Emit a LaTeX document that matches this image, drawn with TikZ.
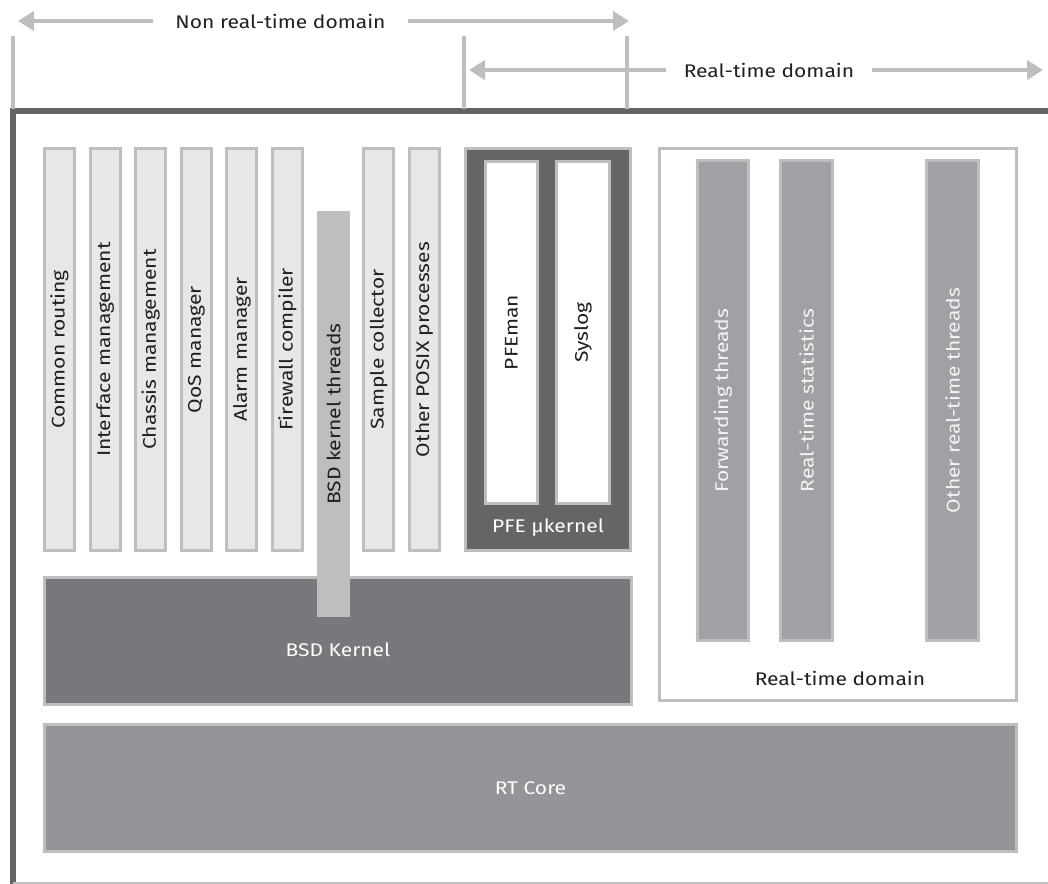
\documentclass[tikz,border=0pt]{standalone}
\usepackage{fontspec}
\setmainfont{Fira Sans}[FakeStretch=1.15]
\usetikzlibrary{arrows.meta}
\definecolor{framec}{HTML}{646466}
\definecolor{edge}{HTML}{BCBEC0}
\definecolor{lightc}{HTML}{E6E7E8}
\definecolor{pfec}{HTML}{646567}
\definecolor{bsdc}{HTML}{77787B}
\definecolor{rtcorec}{HTML}{949598}
\definecolor{rtcolc}{HTML}{A0A1A4}
\definecolor{ink}{HTML}{231F20}
\definecolor{paper}{HTML}{F4F4F5}
\tikzset{
  box/.style={draw=edge, line width=3bp, inner sep=0pt, outer sep=0pt},
  lcol/.style={box, fill=lightc, text=ink, minimum width=30bp, minimum height=402bp},
  rtcol/.style={box, fill=rtcolc, text=paper, minimum height=480bp},
  lab/.style={inner sep=0pt},
  toplabel/.style={inner sep=0pt, text=ink, minimum height=14bp},
  arr/.style={draw=edge, line width=4bp, -{Triangle[length=16bp,width=19bp]}},
  tick/.style={draw=edge, line width=3.5bp}
}
\begin{document}
\begin{tikzpicture}[x=1bp,y=-1bp, font=\fontsize{18.3bp}{22bp}\selectfont]
\useasboundingbox (0,0) rectangle (1048,884);
% frame
\draw[framec, line width=5.5bp] (10,111) -- (1048,111);
\draw[framec, line width=5.5bp] (13,108.5) -- (13,884);
\draw[edge!80!black!60, line width=2bp] (13,883) -- (1048,883);
% ticks
\draw[tick] (13,36) -- (13,108.5);
\draw[tick] (464,36) -- (464,108.5);
\draw[tick] (627,36) -- (627,108.5);
% top arrows
\coordinate (nl) at (18,21);
\coordinate (nr) at (629,21);
\node[toplabel, minimum width=255bp] (nrt) at (280.5,21) {Non real-time domain};
\draw[arr] (nrt.west) -- (nl);
\draw[arr] (nrt.east) -- (nr);
\coordinate (rl) at (469,70);
\coordinate (rr) at (1043,70);
\node[toplabel, minimum width=206bp] (rtd) at (769,70) {Real-time domain};
\draw[arr] (rtd.west) -- (rl);
\draw[arr] (rtd.east) -- (rr);
% light columns
\node[lcol] (cr) at (59.5,349.5) {\rotatebox{90}{Common routing}};
\node[lcol] (im) at (105.1,349.5) {\rotatebox{90}{Interface management}};
\node[lcol] (cm) at (150.7,349.5) {\rotatebox{90}{Chassis management}};
\node[lcol] (qos) at (196.3,349.5) {\rotatebox{90}{QoS manager}};
\node[lcol] (am) at (241.9,349.5) {\rotatebox{90}{Alarm manager}};
\node[lcol] (fc) at (287.5,349.5) {\rotatebox{90}{Firewall compiler}};
\node[lcol] (sc) at (378.7,349.5) {\rotatebox{90}{Sample collector}};
\node[lcol] (op) at (424.3,349.5) {\rotatebox{90}{Other POSIX processes}};
% BSD kernel
\node[box, fill=bsdc, minimum width=587bp, minimum height=127bp] (bsdk) at (338,641) {};
\node[lab, text=white] (bsdkl) at (338,650) {BSD Kernel};
\node[inner sep=0pt, fill=edge, text=ink, minimum width=33bp, minimum height=406bp] (bsdt) at (333.5,414) {\rotatebox{90}{BSD kernel threads}};
% PFE
\node[box, fill=pfec, minimum width=165bp, minimum height=402bp] (pfe) at (548,349.5) {};
\node[box, fill=white, text=ink, minimum width=52bp, minimum height=342bp] (pfeman) at (511.5,332.5) {\rotatebox{90}{PFEman}};
\node[box, fill=white, text=ink, minimum width=53bp, minimum height=342bp] (syslog) at (583,332.5) {\rotatebox{90}{Syslog}};
\node[lab, text=white] (pfel) at (548,528) {PFE µkernel};
% real-time domain box
\node[box, fill=white, minimum width=357bp, minimum height=552bp] (rtbox) at (838,424.5) {};
\node[rtcol, minimum width=51bp] (fwd) at (723,400.5) {\rotatebox{90}{Forwarding threads}};
\node[rtcol, minimum width=52bp] (rts) at (806.5,400.5) {\rotatebox{90}{Real-time statistics}};
\node[rtcol, minimum width=52bp] (ort) at (952.5,400.5) {\rotatebox{90}{Other real-time threads}};
\node[lab, text=ink] (rtboxl) at (840,678) {Real-time domain};
% RT core
\node[box, fill=rtcorec, text=white, minimum width=972bp, minimum height=127bp] (rtc) at (530.5,788) {RT Core};
\end{tikzpicture}
\end{document}
